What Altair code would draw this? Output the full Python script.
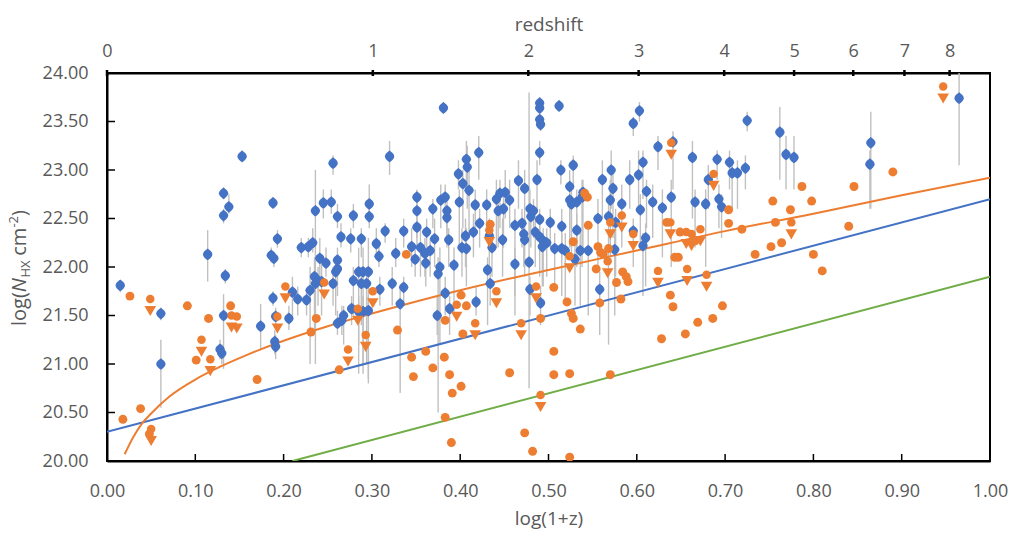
import math
import altair as alt
import pandas as pd

# ---- Detections with column-density errors (blue diamonds) ----
blue_x = [
    0.015, 0.061, 0.061, 0.114, 0.132, 0.132, 0.138, 0.134, 0.132, 0.128,
    0.130, 0.153, 0.174, 0.188, 0.186, 0.189, 0.193, 0.188, 0.190, 0.191,
    0.191, 0.206, 0.210, 0.216, 0.220, 0.226, 0.228, 0.233, 0.230, 0.235,
    0.236, 0.239, 0.236, 0.243, 0.241, 0.248, 0.245, 0.254, 0.256, 0.256,
    0.261, 0.259, 0.261, 0.261, 0.265, 0.261, 0.266, 0.268, 0.276, 0.279,
    0.279, 0.277, 0.285, 0.290, 0.296, 0.288, 0.294, 0.285, 0.290, 0.296,
    0.288, 0.297, 0.297, 0.305, 0.308, 0.309, 0.315, 0.320, 0.323, 0.327,
    0.336, 0.336, 0.332, 0.345, 0.351, 0.351, 0.351, 0.349, 0.355, 0.360,
    0.362, 0.361, 0.369, 0.371, 0.366, 0.375, 0.377, 0.374, 0.381, 0.378,
    0.383, 0.385, 0.385, 0.387, 0.383, 0.388, 0.393, 0.398, 0.399, 0.403,
    0.407, 0.408, 0.410, 0.402, 0.407, 0.406, 0.415, 0.417, 0.421, 0.422,
    0.430, 0.431, 0.436, 0.433, 0.418, 0.434, 0.441, 0.445, 0.451, 0.449,
    0.443, 0.456, 0.448, 0.462, 0.462, 0.466, 0.473, 0.487, 0.490, 0.490,
    0.490, 0.491, 0.490, 0.470, 0.472, 0.473, 0.479, 0.483, 0.480, 0.490,
    0.502, 0.515, 0.485, 0.490, 0.494, 0.498, 0.493, 0.478, 0.479, 0.491,
    0.512, 0.514, 0.528, 0.524, 0.524, 0.526, 0.532, 0.539, 0.538, 0.532,
    0.507, 0.515, 0.519, 0.536, 0.545, 0.530, 0.575, 0.558, 0.561, 0.571,
    0.573, 0.570, 0.583, 0.568, 0.556, 0.576, 0.592, 0.602, 0.596, 0.603,
    0.607, 0.611, 0.618, 0.604, 0.629, 0.639, 0.624, 0.641, 0.596, 0.610,
    0.607, 0.663, 0.666, 0.678, 0.681, 0.691, 0.693, 0.696, 0.705, 0.708,
    0.714, 0.723, 0.725, 0.762, 0.769, 0.778, 0.865, 0.864, 0.965,
]
blue_y = [
    21.81, 21.52, 21.00, 22.13, 22.76, 22.53, 22.62, 21.91, 21.50, 21.15,
    21.11, 23.14, 21.39, 22.66, 22.12, 22.09, 22.29, 21.68, 21.23, 21.18,
    21.49, 21.47, 21.74, 21.67, 22.20, 21.66, 22.21, 22.25, 21.76, 21.90,
    22.58, 21.86, 21.83, 21.85, 22.09, 22.04, 22.66, 22.67, 23.07, 21.83,
    22.52, 21.95, 21.98, 22.07, 22.31, 21.42, 21.45, 21.50, 22.29, 22.53,
    21.86, 21.57, 21.95, 21.95, 21.95, 21.83, 21.83, 21.54, 21.54, 21.55,
    22.29, 22.65, 22.52, 22.24, 22.11, 21.77, 22.37, 23.14, 21.83, 22.14,
    22.37, 21.79, 21.62, 22.21, 22.72, 22.58, 22.41, 22.08, 22.20, 22.14,
    22.36, 22.04, 22.60, 22.29, 22.17, 21.93, 22.00, 21.50, 23.64, 22.69,
    22.72, 22.58, 22.51, 22.28, 21.73, 21.57, 22.02, 22.96, 22.67, 22.86,
    23.11, 23.03, 22.79, 22.20, 22.19, 22.32, 22.36, 22.64, 23.18, 22.45,
    22.64, 21.97, 22.20, 22.32, 21.64, 21.83, 22.70, 22.76, 22.77, 22.60,
    22.58, 22.69, 22.28, 22.43, 22.03, 22.89, 22.81, 22.90, 23.69, 23.64,
    23.52, 23.47, 23.18, 22.45, 22.34, 22.28, 22.60, 22.58, 22.52, 22.49,
    22.46, 22.42, 22.36, 22.31, 22.27, 22.25, 22.21, 22.05, 21.77, 21.63,
    23.66, 23.00, 23.05, 22.83, 22.69, 22.65, 22.67, 22.77, 22.72, 22.38,
    22.19, 22.19, 22.17, 22.17, 22.17, 22.08, 22.18, 21.77, 22.90, 23.00,
    22.81, 22.69, 22.65, 22.52, 22.50, 22.46, 22.90, 22.95, 23.48, 23.61,
    23.08, 22.78, 22.67, 22.59, 22.61, 22.72, 23.24, 23.29, 22.37, 22.30,
    22.22, 23.13, 22.67, 22.65, 22.90, 23.11, 22.70, 22.62, 23.08, 22.97,
    22.97, 23.02, 23.51, 23.39, 23.16, 23.13, 23.28, 23.06, 23.74,
]
blue_lo = [
    21.74, 21.45, 20.55, 21.85, 22.70, 22.45, 22.55, 21.83, 20.95, 21.05,
    21.00, 23.08, 21.15, 22.60, 22.05, 22.00, 22.20, 21.60, 21.10, 21.05,
    21.40, 21.35, 21.50, 21.50, 22.10, 21.50, 22.10, 22.15, 21.00, 21.30,
    21.00, 21.60, 21.40, 21.50, 21.90, 21.90, 22.50, 22.55, 22.95, 21.60,
    22.40, 21.50, 21.70, 21.90, 22.20, 21.30, 21.30, 21.20, 22.15, 22.40,
    21.50, 21.40, 20.90, 21.00, 20.85, 21.40, 21.00, 21.20, 20.90, 20.80,
    22.10, 22.45, 22.40, 22.10, 22.00, 21.60, 22.25, 22.95, 21.60, 22.00,
    22.20, 21.60, 20.70, 22.00, 22.60, 22.30, 22.20, 21.90, 21.90, 21.90,
    22.20, 21.80, 22.40, 22.00, 21.90, 20.50, 21.20, 21.30, 23.58, 22.40,
    22.50, 22.30, 22.20, 22.00, 21.50, 21.30, 21.50, 22.80, 22.20, 22.40,
    22.80, 22.60, 22.30, 21.90, 21.80, 22.00, 22.10, 22.40, 22.90, 22.20,
    22.30, 21.40, 21.90, 22.00, 21.50, 21.60, 22.20, 22.40, 22.50, 22.20,
    22.20, 22.40, 21.90, 21.70, 21.50, 22.60, 22.40, 22.60, 23.60, 23.55,
    23.45, 23.40, 23.05, 22.20, 22.00, 21.90, 22.30, 22.30, 22.20, 22.20,
    22.20, 22.10, 22.00, 21.90, 21.80, 21.90, 21.80, 20.75, 21.50, 21.40,
    23.60, 22.85, 22.80, 22.40, 22.20, 22.10, 22.10, 22.20, 22.00, 22.00,
    21.80, 21.70, 21.60, 21.60, 21.50, 21.60, 21.50, 21.30, 22.50, 22.60,
    22.30, 22.10, 22.20, 21.20, 22.00, 21.90, 22.60, 22.60, 23.35, 23.50,
    22.70, 22.40, 22.30, 22.20, 22.10, 22.00, 23.00, 22.80, 22.00, 21.80,
    21.70, 22.50, 22.20, 22.00, 22.60, 22.90, 22.40, 22.30, 22.80, 22.60,
    22.60, 22.80, 23.40, 22.90, 22.80, 22.80, 22.60, 22.60, 23.05,
]
blue_hi = [
    21.86, 21.58, 21.25, 22.38, 22.82, 22.60, 22.75, 21.98, 21.72, 21.25,
    21.20, 23.20, 21.62, 22.72, 22.20, 22.15, 22.38, 21.75, 21.35, 21.30,
    21.58, 21.60, 21.90, 21.80, 22.30, 21.75, 22.30, 22.40, 22.00, 22.10,
    23.00, 22.00, 22.00, 22.10, 22.30, 22.20, 22.80, 22.80, 23.15, 22.00,
    22.65, 22.10, 22.10, 22.20, 22.45, 21.55, 21.60, 21.60, 22.40, 22.65,
    22.00, 21.70, 22.20, 22.20, 22.30, 22.00, 22.00, 21.70, 21.70, 21.70,
    22.40, 22.85, 22.60, 22.40, 22.25, 21.90, 22.45, 23.30, 22.00, 22.30,
    22.50, 21.90, 21.80, 22.40, 22.80, 22.70, 22.55, 22.20, 22.40, 22.30,
    22.50, 22.20, 22.70, 22.50, 22.30, 22.10, 22.20, 21.70, 23.70, 22.85,
    22.85, 22.70, 22.60, 22.40, 21.90, 21.70, 22.20, 23.10, 22.80, 23.00,
    23.30, 23.25, 23.00, 22.40, 22.40, 22.50, 22.55, 22.80, 23.35, 22.60,
    22.80, 22.10, 22.40, 22.50, 21.80, 22.00, 22.90, 22.90, 23.00, 22.80,
    22.75, 22.90, 22.50, 22.60, 22.20, 23.10, 23.00, 23.10, 23.75, 23.70,
    23.60, 23.55, 23.30, 22.60, 22.50, 22.40, 22.80, 22.70, 22.65, 22.60,
    22.60, 22.60, 22.50, 22.45, 22.40, 22.40, 22.35, 23.80, 21.90, 21.80,
    23.72, 23.10, 23.15, 23.00, 22.90, 22.80, 22.80, 22.90, 22.90, 22.55,
    22.35, 22.35, 22.35, 22.40, 22.40, 22.30, 22.40, 21.95, 23.10, 23.20,
    23.00, 22.90, 22.85, 22.70, 22.70, 22.60, 23.10, 23.20, 23.55, 23.70,
    23.20, 22.90, 22.85, 22.75, 22.80, 22.90, 23.35, 23.40, 22.50, 22.45,
    22.35, 23.30, 22.80, 22.80, 23.05, 23.20, 22.85, 22.75, 23.20, 23.10,
    23.10, 23.15, 23.60, 23.65, 23.35, 23.35, 23.60, 23.20, 24.00,
]

# ---- Other sources (orange circles) ----
orange_x = [
    0.018, 0.026, 0.038, 0.048, 0.091, 0.101, 0.115, 0.140, 0.170, 0.237,
    0.231, 0.263, 0.339, 0.329, 0.345, 0.347, 0.361, 0.369, 0.383, 0.382,
    0.383, 0.388, 0.391, 0.390, 0.401, 0.407, 0.403, 0.401, 0.434, 0.456,
    0.473, 0.482, 0.491, 0.506, 0.506, 0.506, 0.524, 0.524, 0.521, 0.526,
    0.528, 0.536, 0.558, 0.554, 0.570, 0.577, 0.582, 0.584, 0.588, 0.590,
    0.628, 0.638, 0.641, 0.655, 0.669, 0.686, 0.697, 0.734, 0.800, 0.810,
    0.890, 0.846, 0.840, 0.787, 0.798, 0.754, 0.774, 0.757, 0.764, 0.752,
    0.704, 0.704, 0.719, 0.666, 0.649, 0.634, 0.643, 0.647, 0.541, 0.544,
    0.545, 0.528, 0.556, 0.559, 0.562, 0.568,
]
orange_y = [
    20.43, 21.70, 20.54, 20.28, 21.60, 21.04, 21.47, 21.60, 20.84, 21.47,
    21.33, 20.94, 22.13, 21.35, 21.07, 20.87, 21.13, 20.96, 21.45, 21.07,
    20.45, 20.89, 20.70, 20.19, 21.71, 21.60, 21.31, 20.77, 22.44, 20.91,
    20.29, 20.10, 21.47, 21.79, 21.13, 20.89, 20.90, 20.04, 21.64, 21.52,
    21.47, 21.36, 21.63, 21.98, 20.89, 21.84, 21.67, 21.95, 21.90, 21.85,
    21.26, 21.71, 21.59, 21.31, 21.43, 21.47, 21.60, 22.13, 22.13, 21.96,
    22.98, 22.83, 22.42, 22.83, 22.68, 22.68, 22.59, 22.46, 22.25, 22.21,
    22.59, 22.45, 22.39, 22.27, 22.36, 22.46, 22.10, 22.10, 22.76, 22.72,
    22.43, 22.26, 22.21, 22.15, 22.13, 22.19,
]

# ---- Upper limits (orange circle with downward arrow) ----
limit_x = [
    0.049, 0.050, 0.107, 0.117, 0.141, 0.147, 0.193, 0.202, 0.246, 0.273,
    0.284, 0.293, 0.301, 0.396, 0.417, 0.433, 0.441, 0.469, 0.486, 0.491,
    0.524, 0.567, 0.570, 0.583, 0.596, 0.624, 0.638, 0.639, 0.656, 0.662,
    0.657, 0.672, 0.679, 0.687, 0.775, 0.947,
]
limit_y = [
    21.67, 20.33, 21.25, 21.05, 21.50, 21.49, 21.49, 21.80, 21.84, 21.15,
    21.57, 21.30, 21.75, 21.61, 21.42, 22.38, 21.75, 21.42, 21.80, 20.68,
    22.11, 22.06, 22.46, 22.53, 22.34, 21.96, 22.46, 23.28, 22.36, 22.34,
    21.98, 22.39, 21.92, 22.96, 22.46, 23.86,
]

# ---- Reference relations ----
blue_line_x = [0.0, 1.0]
blue_line_y = [20.30, 22.70]
green_line_x = [0.21, 1.0]
green_line_y = [20.00, 21.90]
model_x = [0.02, 0.03, 0.04, 0.05, 0.07, 0.10, 0.13, 0.16, 0.20, 0.25,
           0.30, 0.40, 0.50, 0.60, 0.70, 0.80, 0.90, 1.00]
model_y = [20.07, 20.25, 20.39, 20.49, 20.66, 20.84, 20.98, 21.10, 21.24, 21.39,
           21.52, 21.76, 21.97, 22.17, 22.37, 22.55, 22.74, 22.92]

# ---- Axis ticks ----
x_ticks = [0.0, 0.1, 0.2, 0.3, 0.4, 0.5, 0.6, 0.7, 0.8, 0.9, 1.0]
y_ticks = [20.0, 20.5, 21.0, 21.5, 22.0, 22.5, 23.0, 23.5, 24.0]
redshift_ticks = [0, 1, 2, 3, 4, 5, 6, 7, 8]

W, H = 883, 388
FONT = "Open Sans"
GREY = "#595959"
BLUE = "#4472C4"
ORANGE = "#ED7D31"
GREEN = "#70AD47"

xs = alt.Scale(domain=[0, 1], nice=False, zero=False)
ys = alt.Scale(domain=[20, 24], nice=False, zero=False)


def X(field, axis=None):
    return alt.X(field, type="quantitative", scale=xs, axis=axis)


def Y(field, axis=None):
    return alt.Y(field, type="quantitative", scale=ys, axis=axis)


blue_df = pd.DataFrame({"x": blue_x, "y": blue_y, "lo": blue_lo, "hi": blue_hi})
orange_df = pd.DataFrame({"x": orange_x, "y": orange_y})
limit_df = pd.DataFrame({"x": limit_x, "y": limit_y})
lines_df = pd.concat([
    pd.DataFrame({"x": blue_line_x, "y": blue_line_y, "s": "blue"}),
    pd.DataFrame({"x": green_line_x, "y": green_line_y, "s": "green"}),
])
model_df = pd.DataFrame({"x": model_x, "y": model_y})
one = pd.DataFrame({"k": [0]})

bottom_axis = alt.Axis(
    orient="bottom", values=x_ticks, format=".2f", title="log(1+z)",
    tickSize=0, labelPadding=21, labelFont=FONT, labelFontSize=18,
    labelColor=GREY, labelFlush=False, labelOverlap=False,
    titleFont=FONT, titleFontSize=19, titleColor=GREY,
    titleFontWeight="normal", titlePadding=9,
    domainColor="black", domainWidth=2, grid=False,
)
left_axis = alt.Axis(
    orient="left", values=y_ticks, format=".2f", title=None,
    tickSize=0, labelPadding=19, labelFont=FONT, labelFontSize=18,
    labelColor=GREY, labelFlush=False, labelOverlap=False,
    domainColor="black", domainWidth=2, grid=False,
)
top_axis = alt.Axis(
    orient="top", values=[math.log10(1 + z) for z in redshift_ticks],
    labelExpr="format(pow(10, datum.value) - 1, '.0f')", title="redshift",
    tickSize=0, labelPadding=13, labelFont=FONT, labelFontSize=18,
    labelColor=GREY, labelFlush=False, labelOverlap=False,
    titleFont=FONT, titleFontSize=19, titleColor=GREY,
    titleFontWeight="normal", titlePadding=8,
    domainColor="black", domainWidth=2, grid=False,
)

# inward tick marks on bottom and left axes
xtick_layer = alt.Chart(pd.DataFrame({"v": x_ticks})).mark_rule(
    color="black", strokeWidth=1.5
).encode(x=X("v", bottom_axis), y=alt.value(H), y2=alt.value(H - 7))

ytick_layer = alt.Chart(pd.DataFrame({"v": y_ticks})).mark_rule(
    color="black", strokeWidth=1.5
).encode(y=Y("v", left_axis), x=alt.value(0), x2=alt.value(8))

# redshift ticks along the top edge
top_layer = alt.Chart(pd.DataFrame({"z": redshift_ticks})).transform_calculate(
    lx="log(1 + datum.z) / LN10"
).mark_rule(color="black", strokeWidth=2.5).encode(
    x=X("lx", top_axis), y=alt.value(-3), y2=alt.value(3)
)

err_layer = alt.Chart(blue_df).mark_rule(
    color="#C0C0C0", strokeWidth=1.4, clip=True
).encode(x=X("x"), y=Y("lo"), y2="hi")

line_layer = alt.Chart(lines_df).mark_line(strokeWidth=2, clip=True).encode(
    x=X("x"), y=Y("y"),
    color=alt.Color("s:N", scale=alt.Scale(domain=["blue", "green"], range=[BLUE, GREEN]), legend=None),
)

model_layer = alt.Chart(model_df).mark_line(
    color=ORANGE, strokeWidth=2, interpolate="monotone", clip=True
).encode(x=X("x"), y=Y("y"))

diamond = ("M0,-1.25C0.55,-0.85 1,-0.45 1,0C1,0.45 0.55,0.85 0,1.25"
           "C-0.55,0.85 -1,0.45 -1,0C-1,-0.45 -0.55,-0.85 0,-1.25Z")
blue_layer = alt.Chart(blue_df).mark_point(
    shape=diamond, filled=True, size=88, color=BLUE, opacity=1, clip=True
).encode(x=X("x"), y=Y("y"))

orange_layer = alt.Chart(orange_df).mark_point(
    shape="circle", filled=True, size=80, color=ORANGE, opacity=1, clip=True
).encode(x=X("x"), y=Y("y"))

limit_dot = alt.Chart(limit_df).mark_point(
    shape="circle", filled=True, size=72, color=ORANGE, opacity=1, clip=True
).encode(x=X("x"), y=Y("y"))

limit_arrow = alt.Chart(limit_df).mark_point(
    shape="triangle-down", filled=True, size=135, color=ORANGE, opacity=1,
    yOffset=12, clip=True
).encode(x=X("x"), y=Y("y"))


# y-axis title built from pieces: log(N_HX cm^-2)
def title_piece(text, x, y, size=20, style="normal"):
    return alt.Chart(one).mark_text(
        text=text, angle=270, align="left", baseline="alphabetic",
        font=FONT, fontSize=size, fontStyle=style, color=GREY,
    ).encode(x=alt.value(x), y=alt.value(y))


ytitle = [
    title_piece("log(", -81.5, 253),
    title_piece("N", -81.5, 219.3, style="italic"),
    title_piece("HX", -77, 204.5, size=13),
    title_piece("cm", -81.5, 182.8),
    title_piece("-2", -89, 154.6, size=13),
    title_piece(")", -81.5, 143),
]

chart = alt.layer(
    err_layer, line_layer, model_layer, blue_layer, orange_layer,
    limit_dot, limit_arrow, xtick_layer, ytick_layer, top_layer, *ytitle,
).resolve_axis(x="independent", y="independent").properties(
    width=W, height=H,
    autosize=alt.AutoSizeParams(type="none"),
    padding={"left": 107, "top": 73, "right": 20, "bottom": 72},
    background="white",
).configure_view(stroke="black", strokeWidth=2)

chart.save("out.html", embed_options={"renderer": "svg", "actions": False})
